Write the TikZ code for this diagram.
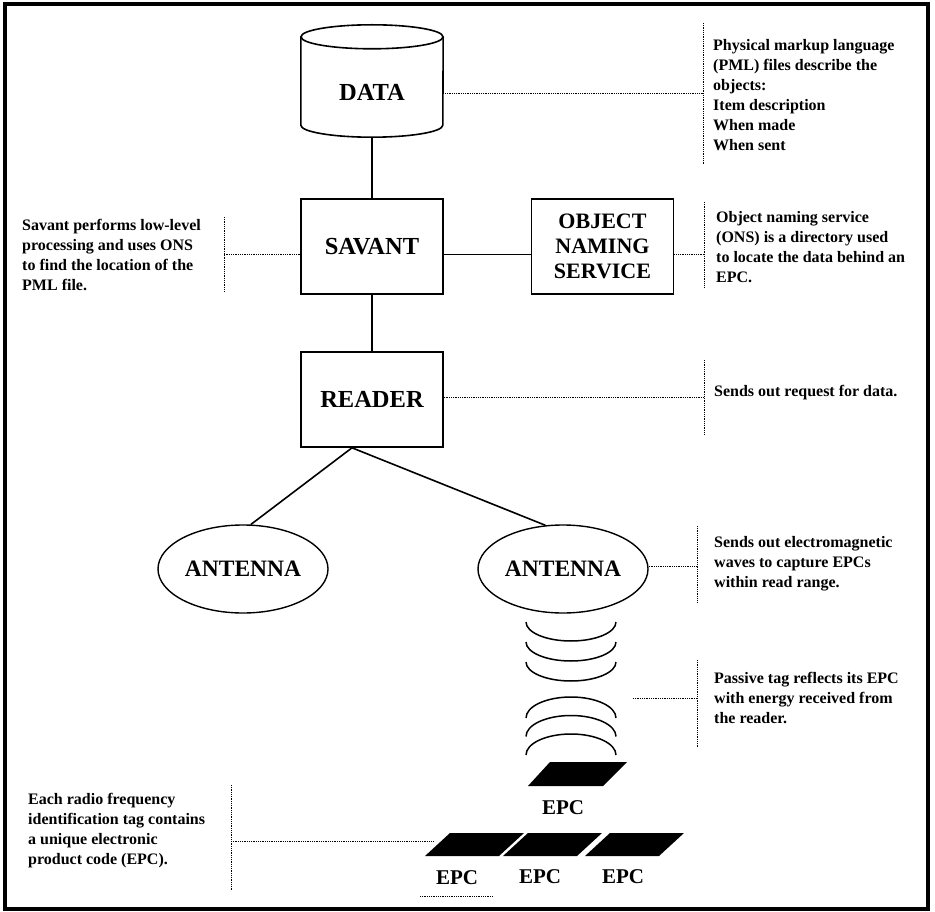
\documentclass[tikz,border=0pt]{standalone}
\usepackage{fontspec}
\setmainfont{Liberation Serif}
\usetikzlibrary{shapes.geometric}

\begin{document}
\begin{tikzpicture}[x=1pt,y=-1pt,
        box/.style={draw, line width=1.6pt, minimum width=142pt, minimum height=95pt, font=\fontsize{24.5}{25}\selectfont\bfseries},
        ant/.style={draw, ellipse, line width=1.4pt, inner sep=1pt, minimum width=170pt, minimum height=88pt, font=\fontsize{23.5}{25}\selectfont\bfseries},
        note/.style={anchor=west, align=left, inner sep=0pt, font=\fontsize{16}{20}\selectfont\bfseries},
        epc/.style={font=\fontsize{21}{21}\selectfont\bfseries},
        dots/.style={densely dotted, line width=0.8pt},
        link/.style={line width=1.6pt}]
        \useasboundingbox (0,0) rectangle (935,912);

        % Frame round the figure
        \draw[line width=3.5pt] (5,4) rectangle (928,909);

        % The data store (drawn as a cylinder)
        \node (data) [minimum width=142pt, minimum height=90pt, font=\fontsize{24.5}{25}\selectfont\bfseries] at (372,92) {DATA};
        \draw[line width=1.6pt] ([yshift=10pt]data.north) ellipse [x radius=71pt, y radius=12pt];
        \draw[line width=1.6pt] ([yshift=10pt]data.north west) -- ([yshift=12pt]data.south west)
            arc[start angle=180, end angle=360, x radius=71pt, y radius=12pt] -- ([yshift=10pt]data.north east);

        % Boxes and antennas
        \node (savant) [box] at (372,246.5) {SAVANT};
        \node (ons) [box, align=center, font=\fontsize{22}{25}\selectfont\bfseries] at (602.5,246.5) {OBJECT\\NAMING\\SERVICE};
        \node (reader) [box] at (372,399.5) {READER};
        \node (ant1) [ant] at (243,569) {ANTENNA};
        \node (ant2) [ant] at (563,569) {ANTENNA};

        % Connections
        \draw[link] (data.south) -- (savant.north);
        \draw[link] ([yshift=-8pt]savant.east) -- ([yshift=-8pt]ons.west);
        \draw[link] (savant.south) -- (reader.north);
        \coordinate (apex) at ([xshift=-20pt]reader.south);
        \draw[link] (apex) -- (ant1.80);
        \draw[link] (apex) -- (ant2.112);

        % Waves out of the antenna and back from the tag
        \foreach \i in {0,1,2} {
            \draw[line width=1.5pt] (526,622+20*\i) arc[start angle=180, end angle=360, x radius=45pt, y radius=19pt];
            \draw[line width=1.5pt] (526,718+18.5*\i) arc[start angle=180, end angle=0, x radius=45pt, y radius=21pt];
        }

        % Tags
        \fill (550,762) -- (627,762) -- (603,786) -- (528,786) -- cycle;
        \foreach \bx in {425,503,585}
            \fill (\bx+25,833) -- (\bx+99,833) -- (\bx+74,856) -- (\bx,856) -- cycle;
        \node (epc0) [epc] at (563,808) {EPC};
        \node (epc1) [epc] at (457,878) {EPC};
        \node (epc2) [epc] at (540,877) {EPC};
        \node (epc3) [epc] at (623,877) {EPC};
        \draw[dots] (420,896) -- (493,896);

        % Notes on the right
        \node (pmlnote) [note] at (713,95) {Physical markup language\\(PML) files describe the\\objects:\\Item description\\When made\\When sent};
        \draw[dots] (703,23) -- (703,165);
        \coordinate (pmlbar) at (703,93);
        \draw[dots] ([yshift=-1pt]data.east) -- (pmlbar);

        \node (onsnote) [note] at (716,247) {Object naming service\\(ONS) is a directory used\\to locate the data behind an\\EPC.};
        \draw[dots] (704,202) -- (704,288);
        \coordinate (onsbar) at (704,254.5);
        \draw[dots] ([yshift=-8pt]ons.east) -- (onsbar);

        \node (readnote) [note] at (714,393) {Sends out request for data.};
        \draw[dots] (704,360) -- (704,435);
        \coordinate (readbar) at (704,397);
        \draw[dots] ([yshift=2.5pt]reader.east) -- (readbar);

        \node (antnote) [note] at (714,564) {Sends out electromagnetic\\waves to capture EPCs\\within read range.};
        \draw[dots] (697,526) -- (697,602);
        \coordinate (antbar) at (697,566);
        \draw[dots] ([yshift=3pt]ant2.east) -- (antbar);

        \node (tagnote) [note] at (714,698) {Passive tag reflects its EPC\\with energy received from\\the reader.};
        \draw[dots] (697,660) -- (697,748);
        \coordinate (wavept) at (633,698);
        \coordinate (tagbar) at (697,698);
        \draw[dots] (wavept) -- (tagbar);

        % Notes on the left
        \node (savnote) [note] at (22,255) {Savant performs low-level\\processing and uses ONS\\to find the location of the\\PML file.};
        \draw[dots] (224,217) -- (224,292);
        \coordinate (savbar) at (224,254.5);
        \draw[dots] ([yshift=-8pt]savant.west) -- (savbar);

        \node (epcnote) [note] at (28,831) {Each radio frequency\\identification tag contains\\a unique electronic\\product code (EPC).};
        \draw[dots] (231,785) -- (231,890);
        \coordinate (epcbar) at (231,841);
        \coordinate (tagedge) at (433,841);
        \draw[dots] (epcbar) -- (tagedge);
    \end{tikzpicture}
\end{document}
